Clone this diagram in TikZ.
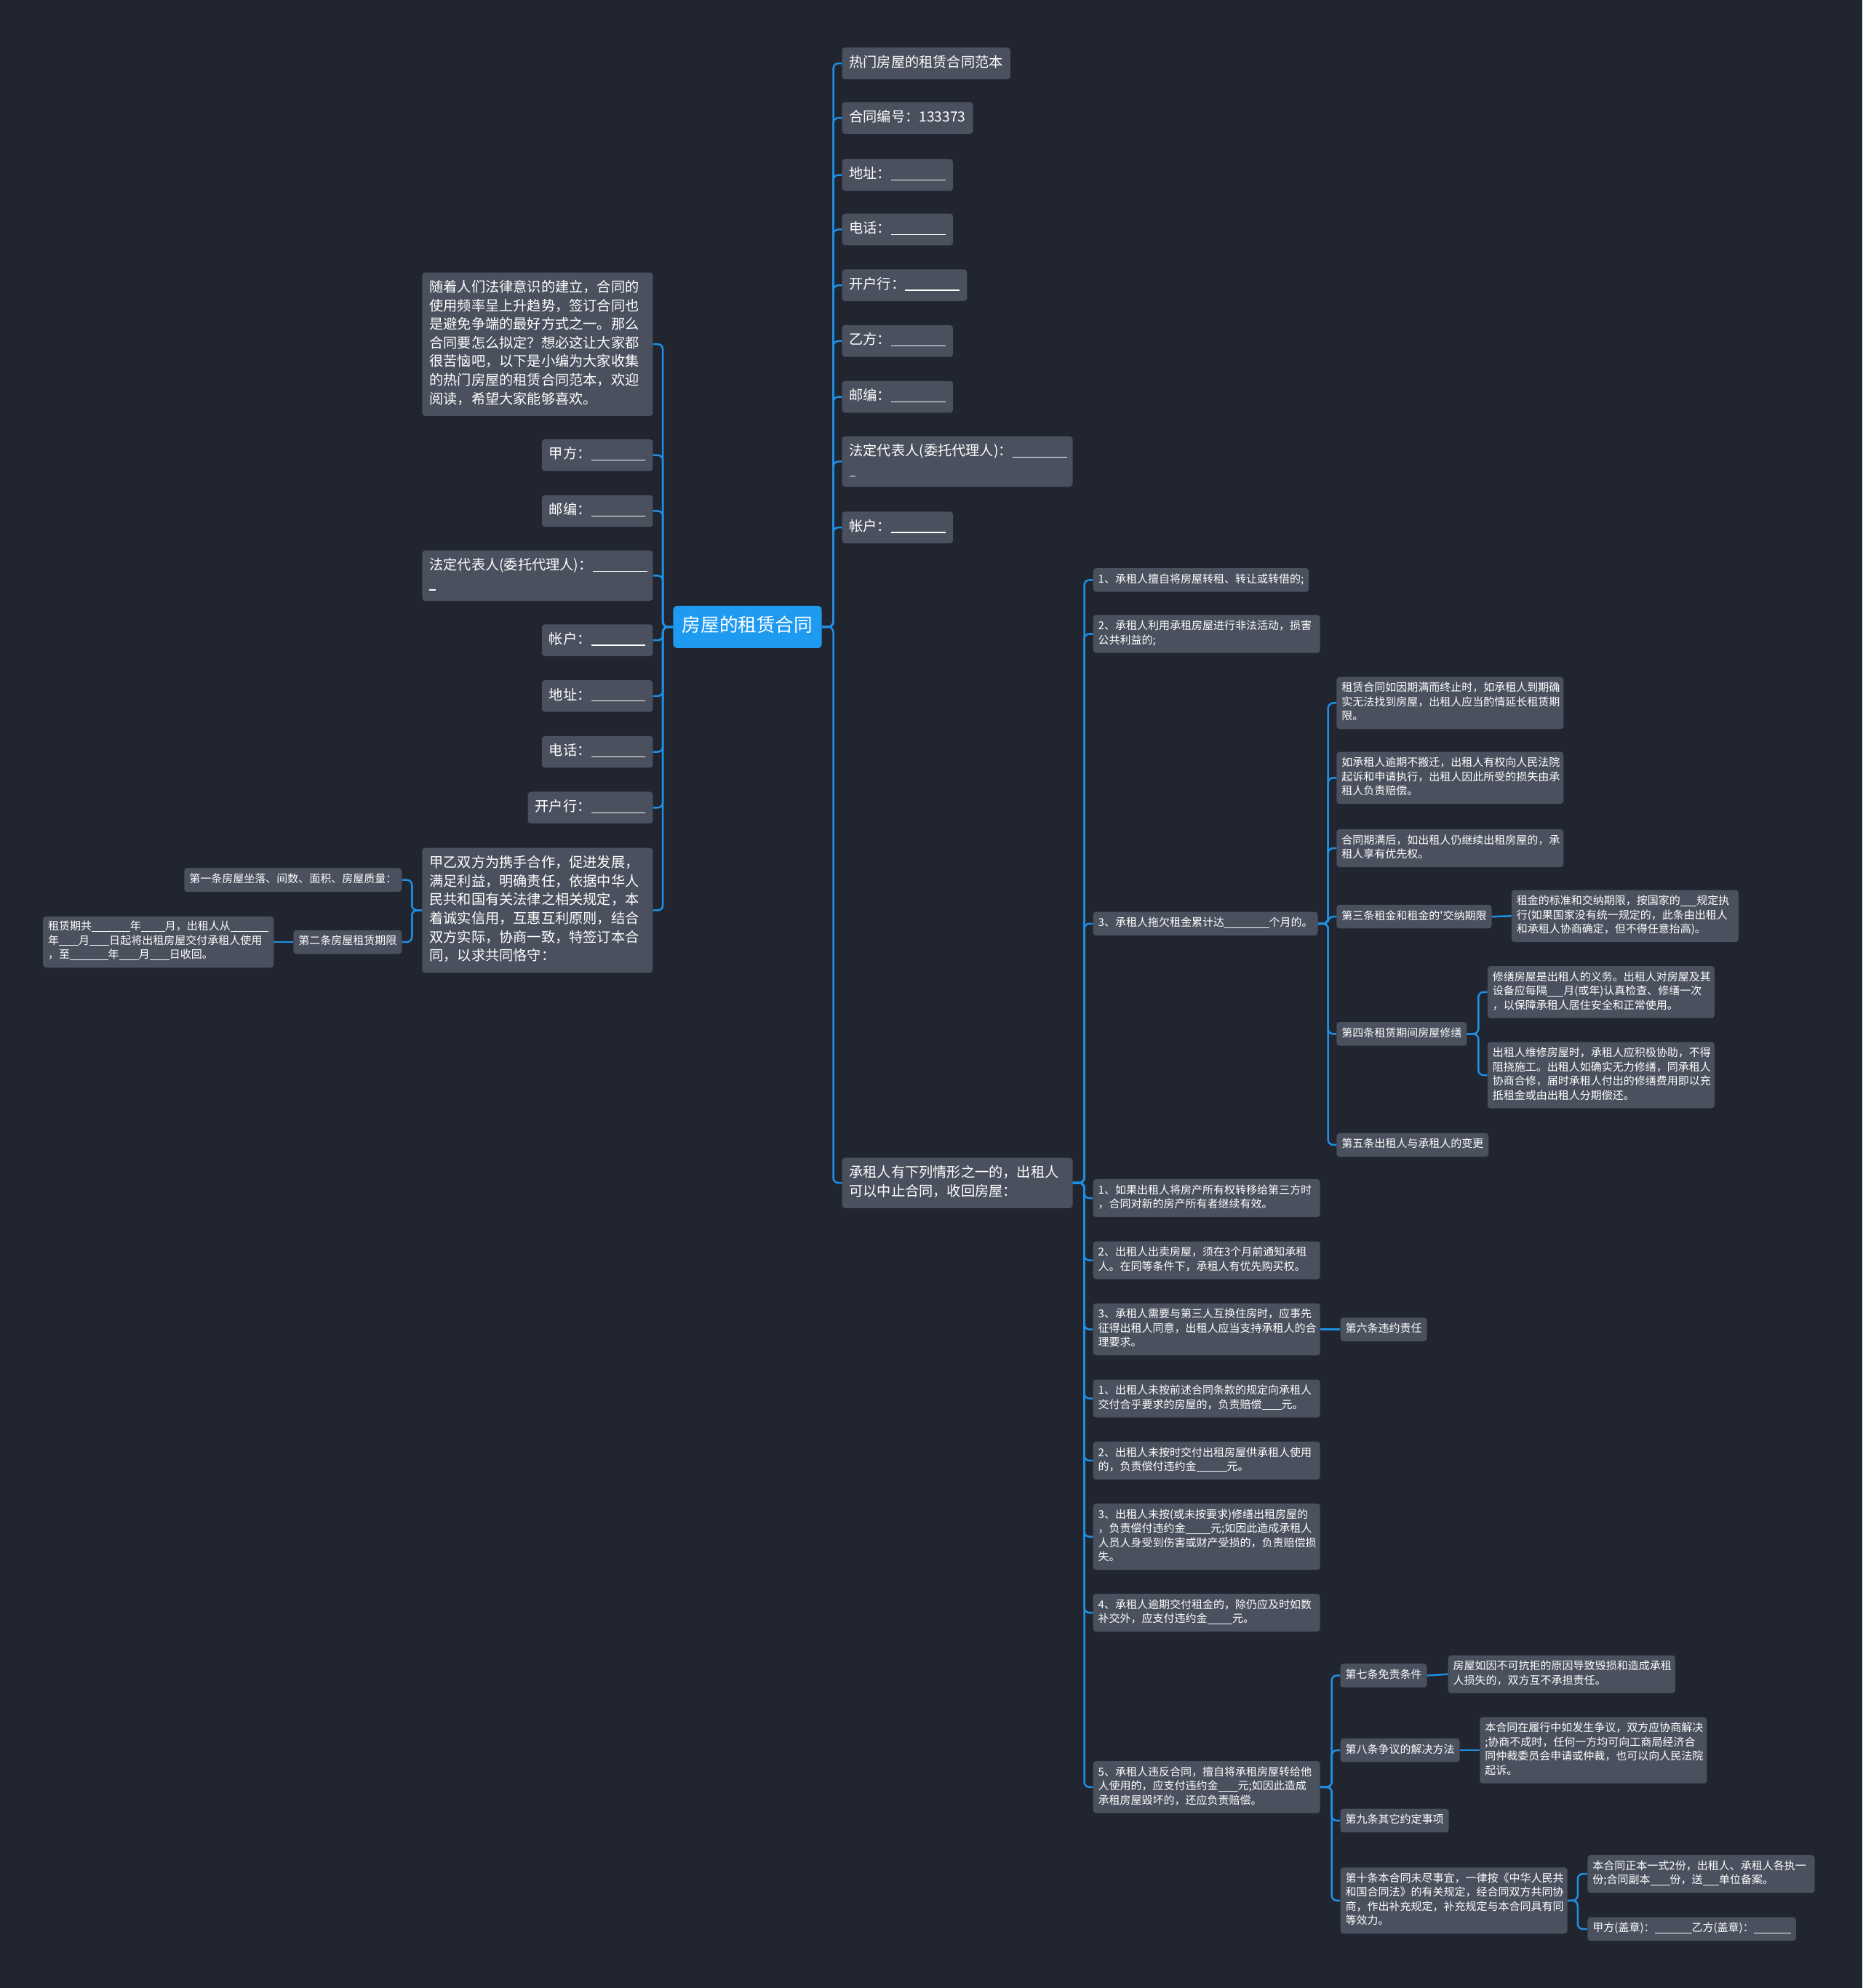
\documentclass[tikz,border=0pt]{standalone}
\usepackage{fontspec}
\setmainfont{Noto Sans CJK SC}[Ligatures=TeXOff]
\usetikzlibrary{calc}
\definecolor{bgc}{HTML}{212530}
\definecolor{nodec}{HTML}{4A505E}
\definecolor{linec}{HTML}{1E8FE3}
\definecolor{rootc}{HTML}{1F9AF1}
\newcommand\bl[1]{\rule[-0.12em]{#1em}{0.06em}}
\begin{document}
\begin{tikzpicture}[x=1.7427pt,y=-1.7427pt,
  box/.style={fill=nodec,text=white,rounded corners=4pt,align=left,inner xsep=7pt,inner ysep=6.5pt,
    font=\fontsize{15}{19.5}\selectfont,execute at begin node=\strut,execute at end node=\strut},
  wbox/.style={box,text width=298pt},
  bigbox/.style={box,inner xsep=10pt,inner ysep=9pt,font=\fontsize{19.2}{25.6}\selectfont},
  wbig/.style={bigbox,text width=297pt},
  rootbox/.style={fill=rootc,text=white,rounded corners=5pt,inner xsep=12.5pt,inner ysep=12.5pt,
    font=\fontsize{25.6}{33}\selectfont,execute at begin node=\strut},
  conn/.style={draw=linec,line width=2.5pt,rounded corners=7pt}]
\fill[bgc] (0,0) rectangle (1469,1568);
% root
\node[rootbox] (root) at (589.5,494.5) {房屋的租赁合同};
% right level 1
\node[bigbox,anchor=west] (r1) at (664,50) {热门房屋的租赁合同范本};
\node[bigbox,anchor=west] (r2) at (664,93) {合同编号：133373};
\node[bigbox,anchor=west] (r3) at (664,138) {地址：\bl{3.9}};
\node[bigbox,anchor=west] (r4) at (664,181) {电话：\bl{3.9}};
\node[bigbox,anchor=west] (r5) at (664,225) {开户行：\bl{3.9}};
\node[bigbox,anchor=west] (r6) at (664,269) {乙方：\bl{3.9}};
\node[bigbox,anchor=west] (r7) at (664,313) {邮编：\bl{3.9}};
\node[wbig,anchor=west] (r8) at (664,364) {法定代表人(委托代理人)：\bl{3.9}\\\bl{0.45}};
\node[bigbox,anchor=west] (r9) at (664,416) {帐户：\bl{3.9}};
\node[wbig,anchor=west] (r10) at (664,933) {承租人有下列情形之一的，出租人\\可以中止合同，收回房屋：};
% left level 1
\node[wbig,anchor=east] (l1) at (515,271.5) {随着人们法律意识的建立，合同的\\使用频率呈上升趋势，签订合同也\\是避免争端的最好方式之一。那么\\合同要怎么拟定？想必这让大家都\\很苦恼吧，以下是小编为大家收集\\的热门房屋的租赁合同范本，欢迎\\阅读，希望大家能够喜欢。};
\node[bigbox,anchor=east] (l2) at (515,359) {甲方：\bl{3.9}};
\node[bigbox,anchor=east] (l3) at (515,403) {邮编：\bl{3.9}};
\node[wbig,anchor=east] (l4) at (515,454) {法定代表人(委托代理人)：\bl{3.9}\\\bl{0.45}};
\node[bigbox,anchor=east] (l5) at (515,505) {帐户：\bl{3.9}};
\node[bigbox,anchor=east] (l6) at (515,549) {地址：\bl{3.9}};
\node[bigbox,anchor=east] (l7) at (515,593) {电话：\bl{3.9}};
\node[bigbox,anchor=east] (l8) at (515,637) {开户行：\bl{3.9}};
\node[wbig,anchor=east] (l9) at (515,718) {甲乙双方为携手合作，促进发展，\\满足利益，明确责任，依据中华人\\民共和国有关法律之相关规定，本\\着诚实信用，互惠互利原则，结合\\双方实际，协商一致，特签订本合\\同，以求共同恪守：};
% left level 2
\node[box,anchor=east] (ll1) at (317,694) {第一条房屋坐落、间数、面积、房屋质量：};
\node[box,anchor=east] (ll2) at (317,743) {第二条房屋租赁期限};
\node[box,anchor=east] (ll3) at (216,743) {租赁期共\bl{3.5}年\bl{2.2}月，出租人从\bl{3.5}\\年\bl{1.8}月\bl{1.8}日起将出租房屋交付承租人使用\\，至\bl{3.5}年\bl{1.8}月\bl{1.8}日收回。};
% right level 2
\node[box,anchor=west] (a) at (862,457.5) {1、承租人擅自将房屋转租、转让或转借的;};
\node[wbox,anchor=west] (b) at (862,500) {2、承租人利用承租房屋进行非法活动，损害\\公共利益的;};
\node[box,anchor=west] (c) at (862,728.5) {3、承租人拖欠租金累计达\bl{4.1}个月的。};
\node[wbox,anchor=west] (d) at (862,945) {1、如果出租人将房产所有权转移给第三方时\\，合同对新的房产所有者继续有效。};
\node[wbox,anchor=west] (e) at (862,994) {2、出租人出卖房屋，须在3个月前通知承租\\人。在同等条件下，承租人有优先购买权。};
\node[wbox,anchor=west] (f) at (862,1048.5) {3、承租人需要与第三人互换住房时，应事先\\征得出租人同意，出租人应当支持承租人的合\\理要求。};
\node[wbox,anchor=west] (g) at (862,1103) {1、出租人未按前述合同条款的规定向承租人\\交付合乎要求的房屋的，负责赔偿\bl{1.8}元。};
\node[wbox,anchor=west] (h) at (862,1152) {2、出租人未按时交付出租房屋供承租人使用\\的，负责偿付违约金\bl{2.8}元。};
\node[wbox,anchor=west] (i) at (862,1212) {3、出租人未按(或未按要求)修缮出租房屋的\\，负责偿付违约金\bl{2.3}元;如因此造成承租人\\人员人身受到伤害或财产受损的，负责赔偿损\\失。};
\node[wbox,anchor=west] (j) at (862,1272) {4、承租人逾期交付租金的，除仍应及时如数\\补交外，应支付违约金\bl{2.3}元。};
\node[wbox,anchor=west] (k) at (862,1409.5) {5、承租人违反合同，擅自将承租房屋转给他\\人使用的，应支付违约金\bl{1.8}元;如因此造成\\承租房屋毁坏的，还应负责赔偿。};
% children of c
\node[wbox,anchor=west] (c1) at (1054,554.5) {租赁合同如因期满而终止时，如承租人到期确\\实无法找到房屋，出租人应当酌情延长租赁期\\限。};
\node[wbox,anchor=west] (c2) at (1054,613.5) {如承租人逾期不搬迁，出租人有权向人民法院\\起诉和申请执行，出租人因此所受的损失由承\\租人负责赔偿。};
\node[wbox,anchor=west] (c3) at (1054,669) {合同期满后，如出租人仍继续出租房屋的，承\\租人享有优先权。};
\node[box,anchor=west] (c4) at (1054,723) {第三条租金和租金的'交纳期限};
\node[box,anchor=west] (c5) at (1054,815.5) {第四条租赁期间房屋修缮};
\node[box,anchor=west] (c6) at (1054,903) {第五条出租人与承租人的变更};
\node[wbox,anchor=west] (c4a) at (1192,722.5) {租金的标准和交纳期限，按国家的\bl{1.5}规定执\\行(如果国家没有统一规定的，此条由出租人\\和承租人协商确定，但不得任意抬高)。};
\node[wbox,anchor=west] (c5a) at (1173,782.5) {修缮房屋是出租人的义务。出租人对房屋及其\\设备应每隔\bl{1.5}月(或年)认真检查、修缮一次\\，以保障承租人居住安全和正常使用。};
\node[wbox,anchor=west] (c5b) at (1173,848) {出租人维修房屋时，承租人应积极协助，不得\\阻挠施工。出租人如确实无力修缮，同承租人\\协商合修，届时承租人付出的修缮费用即以充\\抵租金或由出租人分期偿还。};
% child of f
\node[box,anchor=west] (f1) at (1057,1048.5) {第六条违约责任};
% children of k
\node[box,anchor=west] (k1) at (1057,1321.5) {第七条免责条件};
\node[box,anchor=west] (k2) at (1057,1380.5) {第八条争议的解决方法};
\node[box,anchor=west] (k3) at (1057,1436) {第九条其它约定事项};
\node[wbox,anchor=west] (k4) at (1057,1499) {第十条本合同未尽事宜，一律按《中华人民共\\和国合同法》的有关规定，经合同双方共同协\\商，作出补充规定，补充规定与本合同具有同\\等效力。};
\node[wbox,anchor=west] (k1a) at (1142,1320.5) {房屋如因不可抗拒的原因导致毁损和造成承租\\人损失的，双方互不承担责任。};
\node[wbox,anchor=west] (k2a) at (1167,1380.5) {本合同在履行中如发生争议，双方应协商解决\\;协商不成时，任何一方均可向工商局经济合\\同仲裁委员会申请或仲裁，也可以向人民法院\\起诉。};
\node[wbox,anchor=west] (k4a) at (1252,1478) {本合同正本一式2份，出租人、承租人各执一\\份;合同副本\bl{1.8}份，送\bl{1.5}单位备案。};
\node[box,anchor=west] (k4b) at (1252,1521.5) {甲方(盖章)：\bl{3.4}乙方(盖章)：\bl{3.4}};
% connectors
\foreach \n in {r1,r2,r3,r4,r5,r6,r7,r8,r9,r10}
  \draw[conn] (root.east) -- ++(9,0) |- (\n.west);
\foreach \n in {l1,l2,l3,l4,l5,l6,l7,l8,l9}
  \draw[conn] (root.west) -- ++(-8,0) |- (\n.east);
\foreach \n in {ll1,ll2}
  \draw[conn] (l9.west) -- ++(-8,0) |- (\n.east);
\draw[conn] (ll2.west) -- (ll3.east);
\foreach \n in {a,b,c,d,e,f,g,h,i,j,k}
  \draw[conn] (r10.east) -- ++(9,0) |- (\n.west);
\foreach \n in {c1,c2,c3,c4,c5,c6}
  \draw[conn] (c.east) -- ++(8,0) |- (\n.west);
\draw[conn] (c4.east) -- (c4a.west);
\foreach \n in {c5a,c5b}
  \draw[conn] (c5.east) -- ++(9,0) |- (\n.west);
\draw[conn] (f.east) -- (f1.west);
\foreach \n in {k1,k2,k3,k4}
  \draw[conn] (k.east) -- ++(9,0) |- (\n.west);
\draw[conn] (k1.east) -- (k1a.west);
\draw[conn] (k2.east) -- (k2a.west);
\foreach \n in {k4a,k4b}
  \draw[conn] (k4.east) -- ++(8,0) |- (\n.west);
\end{tikzpicture}
\end{document}
